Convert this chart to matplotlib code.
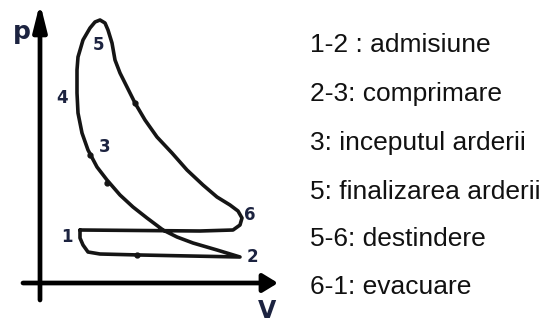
import matplotlib.pyplot as plt

# p-V cycle of the engine (arbitrary units), traced 1 -> 2 -> 3 -> 4 -> 5 -> 6 -> 1
V = [40, 40, 43, 48, 60, 100, 150, 200,
     177, 153, 137, 123, 107, 93, 80, 67, 57, 48, 42, 38, 37, 37, 38, 43, 50, 55,
     60, 65, 68, 72, 75, 80, 87, 95, 105, 117, 132, 147, 163, 177, 190, 198,
     202, 200, 193, 160, 40]
p = [55, 47, 40, 33, 31, 30, 29, 28,
     35, 42, 48, 55, 67, 78, 90, 105, 118, 135, 152, 172, 192, 215, 228, 245, 257, 263,
     265, 262, 255, 242, 225, 212, 198, 182, 165, 148, 132, 115, 100, 88, 80, 74,
     67, 60, 55, 54, 55]

# small dots drawn along the cycle
dot_V = [97, 95, 50, 67]
dot_p = [30, 182, 130, 102]

point_names = ['1', '2', '3', '4', '5', '6']
point_V = [27, 212, 65, 22, 58, 210]
point_p = [48, 28, 138, 187, 240, 70]

legend_lines = ['1-2 : admisiune', '2-3: comprimare', '3: inceputul arderii',
                '5: finalizarea arderii', '5-6: destindere', '6-1: evacuare']

fig = plt.figure(figsize=(5.49, 3.22), dpi=100)
ax = fig.add_axes([0, 0, 1, 1])
ax.set_xlim(-40, 509)
ax.set_ylim(-37, 285)
ax.axis('off')

# axes with arrows
ax.annotate('', xy=(0, 282), xytext=(0, -15),
            arrowprops=dict(arrowstyle='-|>,head_length=1.6,head_width=0.4',
                            lw=3.4, color='black', shrinkA=0, shrinkB=0))
ax.annotate('', xy=(238, 2), xytext=(-17, 2),
            arrowprops=dict(arrowstyle='-|>,head_length=0.9,head_width=0.55',
                            lw=3.4, color='black', shrinkA=0, shrinkB=0))

ax.plot(V, p, color='#151515', lw=2.6, solid_joinstyle='round', solid_capstyle='round')
ax.plot(dot_V, dot_p, 'o', color='#151515', ms=3.5)

num_color = '#1c2340'
for name, x, y in zip(point_names, point_V, point_p):
    ax.text(x, y, name, ha='center', va='center', fontsize=12, fontweight='bold',
            family='DejaVu Sans', color=num_color)

ax.text(-18, 253, 'p', ha='center', va='center', fontsize=18, fontweight='bold',
        family='DejaVu Sans', color=num_color)
ax.text(227, -26, 'V', ha='center', va='center', fontsize=17, fontweight='bold',
        family='DejaVu Sans', color=num_color)

ys = [45, 94, 143, 192, 239, 287]
for txt, y in zip(legend_lines, ys):
    fig.text(310 / 549, 1 - y / 322, txt, ha='left', va='center', fontsize=19,
             family='Liberation Sans', color='#111111')

fig.savefig('out.png', dpi=100)
